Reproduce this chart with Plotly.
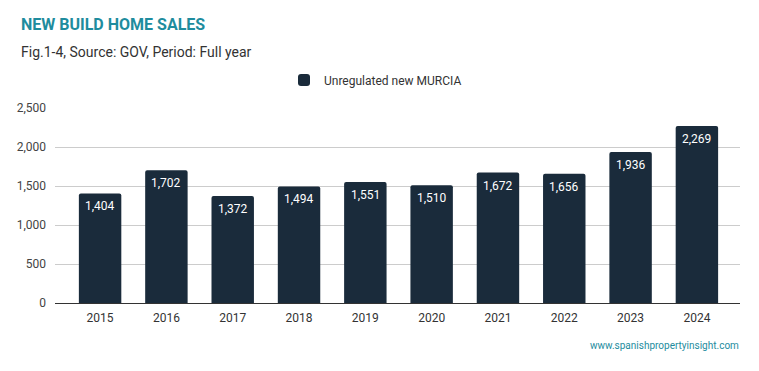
import plotly.graph_objects as go

years = ["2015", "2016", "2017", "2018", "2019", "2020", "2021", "2022", "2023", "2024"]
sales = [1404, 1702, 1372, 1494, 1551, 1510, 1672, 1656, 1936, 2269]
series_name = "Unregulated new MURCIA"
y_ticks = [0, 500, 1000, 1500, 2000, 2500]

W, H = 759, 371
L, R, T, B = 55, 19, 108, 68
PW, PH = W - L - R, H - T - B

fig = go.Figure()
fig.add_trace(go.Bar(
    x=years, y=sales, name=series_name,
    marker=dict(color="#1a2b3b", line=dict(width=0), cornerradius=2),
    width=0.64, hoverinfo="x+y",
))

# value labels inside bar tops (category index positions on the x axis)
for i, v in enumerate(sales):
    fig.add_annotation(x=i, y=v, xref="x", yref="y", text=f"{v:,}",
                       yanchor="middle", yshift=-13, showarrow=False,
                       font=dict(color="white", size=12, family="Roboto"))

fig.update_layout(
    width=W, height=H,
    margin=dict(l=L, r=R, t=T, b=B, autoexpand=False),
    paper_bgcolor="white", plot_bgcolor="white",
    font=dict(family="Roboto", color="#333333", size=12),
    showlegend=True,
    legend=dict(orientation="h", xref="container", x=0.5 - 4 / W, xanchor="center",
                yref="container", y=1 - 80 / H, yanchor="middle",
                font=dict(size=12, color="#333333")),
    xaxis=dict(type="category", range=[-0.68, 9.65], showgrid=False,
               showline=True, linecolor="#333333", linewidth=1,
               ticks="", ticklabelstandoff=4, tickfont=dict(size=12, color="#333333")),
    yaxis=dict(range=[0, 2500], tickvals=y_ticks, tickformat=",",
               showgrid=True, gridcolor="#cccccc", gridwidth=1,
               zeroline=False, ticks="", ticklabelstandoff=8,
               tickfont=dict(size=12, color="#444444")),
)

fig.add_annotation(text="<b>NEW BUILD HOME SALES</b>", xref="paper", yref="paper",
                   x=-L / PW, xanchor="left", y=1 + (T - 25) / PH, yanchor="middle",
                   xshift=19, showarrow=False, font=dict(size=16, color="#1e8c9e", family="Roboto"))
fig.add_annotation(text="Fig.1-4, Source: GOV, Period: Full year", xref="paper", yref="paper",
                   x=-L / PW, xanchor="left", y=1 + (T - 52) / PH, yanchor="middle",
                   xshift=19, showarrow=False, font=dict(size=14, color="#333333", family="Roboto"))
fig.add_annotation(text="www.spanishpropertyinsight.com", xref="paper", yref="paper",
                   x=1 + 1 / PW, xanchor="right", y=-(345 - (H - B)) / PH, yanchor="middle",
                   showarrow=False, font=dict(size=10, color="#1e8c9e", family="Roboto"))

fig.write_html("out.html", config={"displayModeBar": False},
               post_script="document.body.style.margin='0';")
